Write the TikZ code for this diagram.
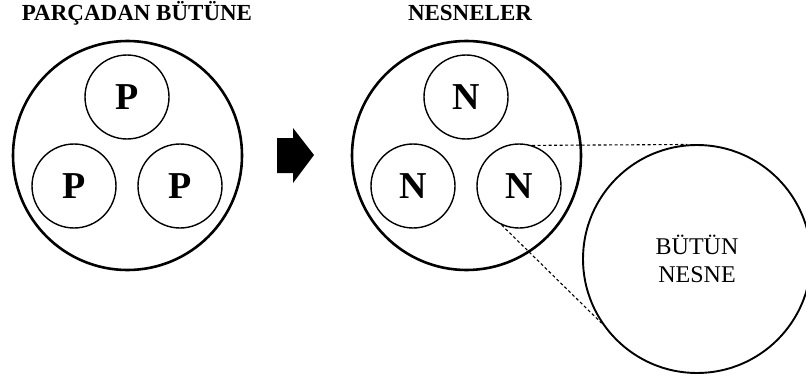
\documentclass[tikz,border=0pt]{standalone}
\usepackage{fontspec}
\setmainfont{Liberation Serif}
\begin{document}
\begin{tikzpicture}[x=1pt,y=1pt,
  outer/.style={circle,draw,line width=2.6pt,minimum size=229pt,inner sep=0pt},
  part/.style={circle,draw,line width=1.4pt,minimum size=84pt,inner sep=0pt,font=\fontsize{38}{42}\selectfont\bfseries},
  whole/.style={circle,draw,line width=1.9pt,minimum size=228pt,inner sep=0pt,align=center,font=\fontsize{24}{28}\selectfont},
  title/.style={font=\fontsize{23}{26}\selectfont\bfseries,anchor=base,inner sep=0pt},
  zoomline/.style={dashed,line width=1.1pt,dash pattern=on 3pt off 2.5pt}]
\clip (0,0) rectangle (806,381);
\fill[white] (0,0) rectangle (806,381);
% titles
\node[title] (t1) at (137,360) {PARÇADAN BÜTÜNE};
\node[title] (t2) at (470,360) {NESNELER};
% left group
\node[outer] (L) at (127.5,225.5) {};
\node[part] (p1) at (127,284) {P};
\node[part] (p2) at (74,195) {P};
\node[part] (p3) at (180,195) {P};
% arrow
\fill (277,243) -- (293,243) -- (293,253) -- (314,226) -- (293,198) -- (293,208) -- (277,208) -- cycle;
% right group
\node[outer] (R) at (466.5,225.5) {};
\node[part] (n1) at (466,284) {N};
\node[part] (n2) at (413,195) {N};
\node[part] (n3) at (519,195) {N};
% whole object
\node[whole] (W) at (697,122) {BÜTÜN\\NESNE};
% zoom lines
\draw[zoomline] (n3.72) -- (W.95);
\draw[zoomline] (n3.-114) -- (W.214);
\end{tikzpicture}
\end{document}
